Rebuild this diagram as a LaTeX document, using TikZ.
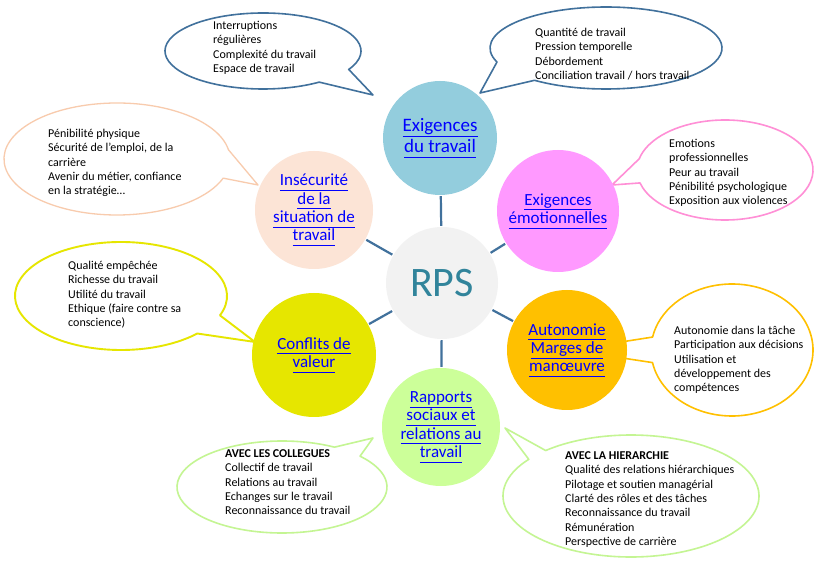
\documentclass[tikz,border=0pt]{standalone}
\usepackage{fontspec}
\setmainfont{Carlito}
\definecolor{conn}{HTML}{41719C}
\definecolor{cET}{HTML}{93CDDD}
\definecolor{cEE}{HTML}{FF99FF}
\definecolor{cIS}{HTML}{FCE4D6}
\definecolor{cCV}{HTML}{E6E600}
\definecolor{cAU}{HTML}{FFC000}
\definecolor{cRS}{HTML}{CCFF99}
\definecolor{cRPS}{HTML}{F2F2F2}
\definecolor{rpstext}{HTML}{31849B}
\definecolor{lnk}{HTML}{0000FF}
\definecolor{bBlue}{HTML}{41719C}
\definecolor{bPeach}{HTML}{F8CBAD}
\definecolor{bPink}{HTML}{FF8FD6}
\definecolor{bYellow}{HTML}{E6E600}
\definecolor{bOrange}{HTML}{FFC000}
\definecolor{bGreen}{HTML}{C4F593}
\newcommand\lnktxt[1]{\underline{#1\vphantom{g}}}
\begin{document}
\begin{tikzpicture}[x=1pt,y=1pt,
  bubble/.style={line width=1.6pt, fill=white, line join=round},
  btext/.style={anchor=north west, inner sep=0pt, align=left, font=\fontsize{12}{14.4}\selectfont, text=black},
  circ/.style={circle, inner sep=0pt, draw=none, align=center, text=lnk, font=\fontsize{17}{18.3}\selectfont},
  conline/.style={draw=conn, line width=2.2pt, shorten >=1pt, shorten <=1pt}]
\fill[white] (0,0) rectangle (814,560);
\useasboundingbox (0,0) rectangle (814,560);

% bubbles
\draw[bubble, draw=bBlue] (263,509) ++(-29:98pt and 38pt) arc[start angle=-29, end angle=305, x radius=98pt, y radius=38pt] -- (373,465) -- cycle;
\draw[bubble, draw=bBlue] (606,512) ++(232:116pt and 41pt) arc[start angle=232, end angle=560, x radius=116pt, y radius=41pt] -- (480,467) -- cycle;
\draw[bubble, draw=bPeach, line width=1.3pt] (117,401) ++(9.5:113pt and 56pt) arc[start angle=9.5, end angle=340, x radius=113pt, y radius=56pt] -- (258,375) -- cycle;
\draw[bubble, draw=bPink] (725,390) ++(195:88pt and 50pt) arc[start angle=195, end angle=527, x radius=88pt, y radius=50pt] -- (612,375) -- cycle;
\draw[bubble, draw=bYellow, line width=1.9pt] (121,264) ++(-21:106pt and 54pt) arc[start angle=-21, end angle=316, x radius=106pt, y radius=54pt] -- (255,218) -- cycle;
\draw[bubble, draw=bOrange] (732,210) ++(191:81pt and 66pt) arc[start angle=191, end angle=528.7, x radius=81pt, y radius=66pt] -- (570,210) -- cycle;
\draw[bubble, draw=bGreen] (282,73) ++(60:105pt and 46pt) arc[start angle=60, end angle=402, x radius=105pt, y radius=46pt] -- (373,122) -- cycle;
\draw[bubble, draw=bGreen] (631,64) ++(143:128pt and 61pt) arc[start angle=143, end angle=491.8, x radius=128pt, y radius=61pt] -- (505,132) -- cycle;

% bubble texts
\node[btext] (tTL) at (213,541) {\strut Interruptions\\régulières\\Complexité du travail\\Espace de travail};
\node[btext] (tTR) at (535,534) {\strut Quantité de travail\\Pression temporelle\\Débordement\\Conciliation travail / hors travail};
\node[btext] (tIS) at (48,433) {\strut Pénibilité physique\\Sécurité de l’emploi, de la\\carrière\\Avenir du métier, confiance\\en la stratégie…};
\node[btext] (tEE) at (669,423) {\strut Emotions\\professionnelles\\Peur au travail\\Pénibilité psychologique\\Exposition aux violences};
\node[btext] (tCV) at (68,301) {\strut Qualité empêchée\\Richesse du travail\\Utilité du travail\\Ethique (faire contre sa\\conscience)};
\node[btext] (tAU) at (674,236) {\strut Autonomie dans la tâche\\Participation aux décisions\\Utilisation et\\développement des\\compétences};
\node[btext] (tRSL) at (225,113) {\strut\textbf{AVEC LES COLLEGUES}\\Collectif de travail\\Relations au travail\\Echanges sur le travail\\Reconnaissance du travail};
\node[btext] (tRSR) at (565,111) {\strut\textbf{AVEC LA HIERARCHIE}\\Qualité des relations hiérarchiques\\Pilotage et soutien managérial\\Clarté des rôles et des tâches\\Reconnaissance du travail\\Rémunération\\Perspective de carrière};

% circles
\node[circ, fill=cRPS, minimum size=112pt, text=rpstext, font=\fontsize{42}{46}\selectfont] (RPS) at (442,277) {RPS};
\node[circ, fill=cET, minimum size=114pt, font=\fontsize{19}{21.5}\selectfont] (ET) at (440,422) {\lnktxt{Exigences}\\\lnktxt{du travail}};
\node[circ, fill=cEE, minimum size=122pt] (EE) at (558,349) {\lnktxt{Exigences}\\\lnktxt{émotionnelles}};
\node[circ, fill=cIS, minimum size=118pt] (IS) at (314,350) {\lnktxt{Insécurité}\\\lnktxt{de la}\\\lnktxt{situation de}\\\lnktxt{travail}};
\node[circ, fill=cCV, minimum size=124pt] (CV) at (314,205) {\lnktxt{Conflits de}\\\lnktxt{valeur}};
\node[circ, fill=cAU, minimum size=120pt] (AU) at (567,210) {\lnktxt{Autonomie}\\\lnktxt{Marges de}\\\lnktxt{manœuvre}};
\node[circ, fill=cRS, minimum size=118pt] (RS) at (441,133) {\lnktxt{Rapports}\\\lnktxt{sociaux et}\\\lnktxt{relations au}\\\lnktxt{travail}};

% connectors
\draw[conline] (RPS) -- (ET);
\draw[conline] (RPS) -- (EE);
\draw[conline] (RPS) -- (IS);
\draw[conline] (RPS) -- (CV);
\draw[conline] (RPS) -- (AU);
\draw[conline] (RPS) -- (RS);
\end{tikzpicture}
\end{document}
